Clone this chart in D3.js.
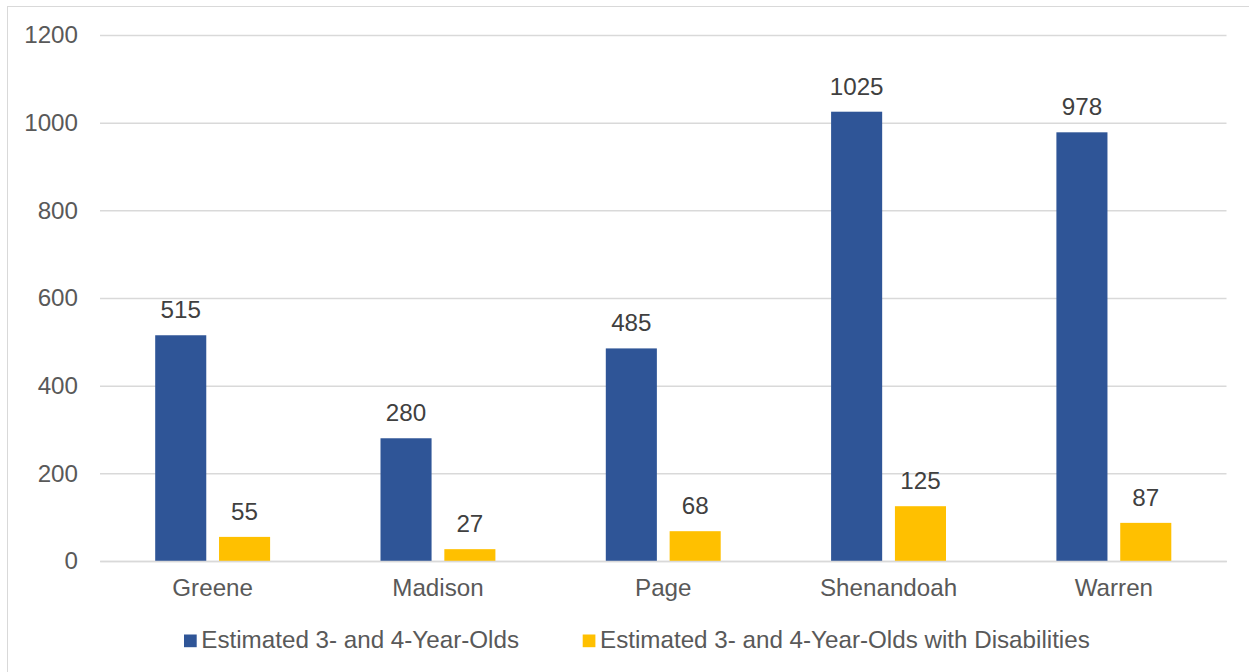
<!DOCTYPE html>
<html>
<head>
<meta charset="utf-8">
<script src="https://cdn.jsdelivr.net/npm/d3@7"></script>
<style>
  html, body { margin: 0; padding: 0; background: #fff; }
  svg { display: block; font-family: "Liberation Sans", Arial, sans-serif; }
</style>
</head>
<body>
<svg id="chart" width="1249" height="672"></svg>
<script>
// County estimates of preschool-age children
const counties = ["Greene", "Madison", "Page", "Shenandoah", "Warren"];
const seriesNames = ["Estimated 3- and 4-Year-Olds", "Estimated 3- and 4-Year-Olds with Disabilities"];
const childrenTotal = [515, 280, 485, 1025, 978];
const childrenWithDisabilities = [55, 27, 68, 125, 87];
const yTicks = [0, 200, 400, 600, 800, 1000, 1200];
const seriesColors = ["#2F5597", "#FFC000"];

const seriesValues = [childrenTotal, childrenWithDisabilities];
const rows = counties.map((c, i) => ({
  county: c,
  values: seriesNames.map((s, j) => ({ series: s, value: seriesValues[j][i], color: seriesColors[j] }))
}));

const svg = d3.select("#chart");
const W = 1249, H = 672;
const plot = { left: 100, right: 1226.5, top: 35, bottom: 561 };
const FONT = 24.2;

// outer frame
svg.append("rect")
  .attr("x", 7.5).attr("y", 6.5)
  .attr("width", W + 10).attr("height", H + 10)
  .attr("fill", "none").attr("stroke", "#D9D9D9").attr("stroke-width", 1);

const x0 = d3.scaleBand().domain(counties).range([plot.left, plot.right])
  .paddingInner(0.49).paddingOuter(0.245);
const x1 = d3.scaleBand().domain(seriesNames).range([0, x0.bandwidth()])
  .paddingInner(0.2);
const y = d3.scaleLinear().domain([0, 1200]).range([plot.bottom, plot.top]);

// gridlines + y tick labels
const yAxis = d3.axisLeft(y).tickValues(yTicks).tickFormat(d3.format("d"))
  .tickSize(-(plot.right - plot.left)).tickPadding(22);
const gy = svg.append("g").attr("transform", `translate(${plot.left},0)`).call(yAxis);
gy.select(".domain").remove();
gy.selectAll(".tick line").attr("stroke", "#D9D9D9").attr("stroke-width", 1.5);
gy.selectAll(".tick text")
  .attr("fill", "#595959").attr("font-size", FONT)
  .attr("font-family", "Liberation Sans, Arial, sans-serif");

// bars
const groups = svg.append("g").selectAll("g").data(rows).join("g")
  .attr("transform", d => `translate(${x0(d.county)},0)`);

groups.selectAll("rect").data(d => d.values).join("rect")
  .attr("x", d => x1(d.series))
  .attr("y", d => y(d.value))
  .attr("width", x1.bandwidth())
  .attr("height", d => y(0) - y(d.value))
  .attr("fill", d => d.color);

// value labels
groups.selectAll("text").data(d => d.values).join("text")
  .attr("x", d => x1(d.series) + x1.bandwidth() / 2)
  .attr("y", d => y(d.value) - 17)
  .attr("text-anchor", "middle")
  .attr("fill", "#404040").attr("font-size", FONT)
  .text(d => d.value);

// category axis
const xAxis = d3.axisBottom(x0).tickSize(0).tickPadding(0);
const gx = svg.append("g").attr("transform", `translate(0,${plot.bottom})`).call(xAxis);
gx.select(".domain").attr("stroke", "#D9D9D9").attr("stroke-width", 1.5);
gx.selectAll(".tick text")
  .attr("dy", null).attr("y", 35)
  .attr("fill", "#595959").attr("font-size", FONT)
  .attr("font-family", "Liberation Sans, Arial, sans-serif");

// legend
const legendX = [184, 582.7];
const legend = svg.append("g").selectAll("g").data(seriesNames).join("g")
  .attr("transform", (d, i) => `translate(${legendX[i]},634.5)`);
legend.append("rect").attr("width", 12.7).attr("height", 12.7)
  .attr("fill", (d, i) => seriesColors[i]);
legend.append("text").attr("x", 17.3).attr("y", 13.8)
  .attr("fill", "#595959").attr("font-size", FONT)
  .text(d => d);
</script>
</body>
</html>
